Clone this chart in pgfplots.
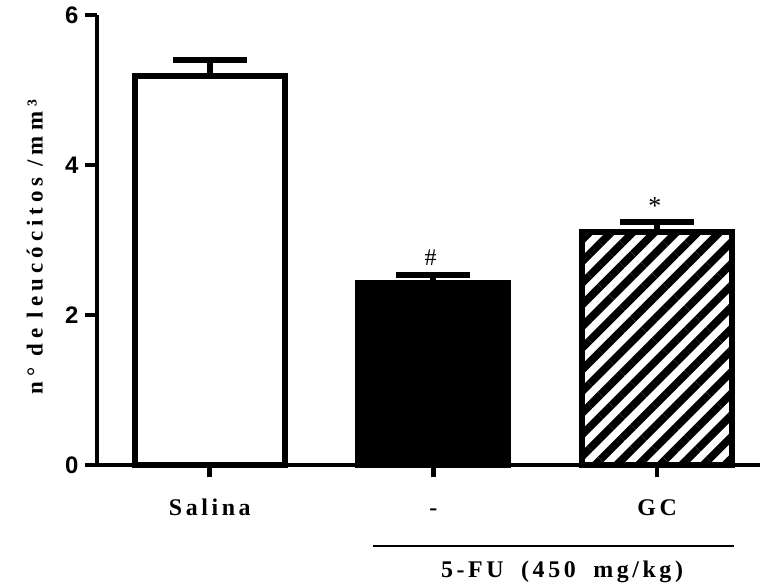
\documentclass[border=0pt]{standalone}
\usepackage{pgfplots}
\pgfplotsset{compat=1.18}
\usepackage{fontspec}
\setmainfont{Liberation Serif}
\newfontfamily\tickfont{Liberation Sans}
\newfontfamily\lsfont[LetterSpace=15]{Liberation Serif}
\newfontfamily\lsyfont[LetterSpace=22]{Liberation Serif}
\usetikzlibrary{patterns.meta}
\begin{document}
\begin{tikzpicture}
\useasboundingbox (0,0) rectangle (761bp,584bp);
\begin{axis}[
  at={(97bp,119bp)}, anchor=south west,
  scale only axis, width=663bp, height=450bp,
  xmin=-0.504, xmax=2.46, ymin=0, ymax=6,
  axis lines*=left,
  axis line style={line width=4.5bp, -},
  clip=false,
  ytick={0,2,4,6},
  /pgf/number format/assume math mode=true,
  yticklabel style={font=\fontsize{24}{28}\selectfont\tickfont\bfseries, xshift=-3bp},
  xtick={0,1,2},
  xticklabels={Salina,-,GC},
  xticklabel style={font=\fontsize{24}{28}\selectfont\lsfont\bfseries, text height=17bp, text depth=5bp, anchor=north, yshift=-18bp},
  tick style={line width=4.5bp, black},
  major tick length=12bp, tick align=outside,
  ylabel={n° de leucócitos /mm³},
  ylabel style={font=\fontsize{23}{27}\selectfont\lsyfont\bfseries, at={(axis description cs:-0.094,0.484)}, anchor=center},
  ybar, bar width=150bp, bar shift=0pt,
  every axis plot/.append style={line width=6bp},
  error bars/y dir=plus, error bars/y explicit,
  error bars/error bar style={line width=6bp, black},
  error bars/error mark options={line width=6bp, mark size=37bp, black, rotate=90},
]
\addplot[draw=black, fill=white] coordinates {(0,5.19) +- (0,0.21)};
\addplot[draw=black, fill=black] coordinates {(1,2.42) +- (0,0.11)};
\addplot[draw=black, pattern={Lines[angle=45,distance=15.3bp,line width=7.7bp]}, pattern color=black] coordinates {(2,3.10) +- (0,0.14)};
\node[font=\fontsize{24}{28}\selectfont] at (axis cs:0.987,2.77) {\#};
\node[font=\fontsize{26}{30}\selectfont] at (axis cs:1.99,3.45) {*};
\draw[line width=2.5bp] (axis cs:0.732,-1.08) -- (axis cs:2.343,-1.08);
\node[font=\fontsize{24}{28}\selectfont\lsfont\bfseries, anchor=base] at (axis cs:1.575,-1.50) {5-FU\,\, (450\,\, mg/kg)};
\end{axis}
\end{tikzpicture}
\end{document}
